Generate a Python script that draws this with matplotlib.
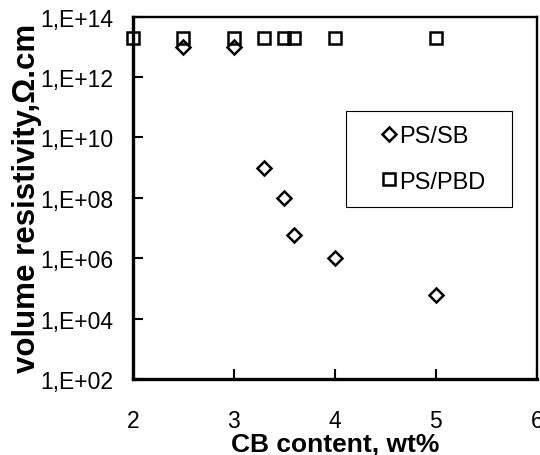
import numpy as np
import matplotlib.pyplot as plt
from matplotlib.ticker import FixedLocator, FixedFormatter

plt.rcParams['font.family'] = ['Liberation Sans', 'DejaVu Sans']

# PS/SB data
sb_x = [2.5, 3.0, 3.3, 3.5, 3.6, 4.0, 5.0]
sb_y = [1e13, 1e13, 1e9, 1e8, 6e6, 1e6, 6e4]

# PS/PBD data
pbd_x = [2.0, 2.5, 3.0, 3.3, 3.5, 3.6, 4.0, 5.0]
pbd_y = [2e13, 2e13, 2e13, 2e13, 2e13, 2e13, 2e13, 2e13]

y_ticks = [1e2, 1e4, 1e6, 1e8, 1e10, 1e12, 1e14]
y_labels = ["1,E+02", "1,E+04", "1,E+06", "1,E+08", "1,E+10", "1,E+12", "1,E+14"]
x_ticks = [2, 3, 4, 5, 6]

fig = plt.figure(figsize=(5.4, 4.56), dpi=100)
ax = fig.add_axes([0.246, 0.167, 0.748, 0.794])

ax.plot(sb_x, sb_y, linestyle='none', marker='D', markersize=7.5,
        markerfacecolor='white', markeredgecolor='black', markeredgewidth=1.8,
        label='PS/SB', clip_on=False, zorder=3)
ax.plot(pbd_x, pbd_y, linestyle='none', marker='s', markersize=9,
        markerfacecolor='none', markeredgecolor='black', markeredgewidth=1.8,
        label='PS/PBD', clip_on=False, zorder=4)

ax.set_yscale('log')
ax.set_ylim(1e2, 1e14)
ax.set_xlim(2, 6)
ax.yaxis.set_major_locator(FixedLocator(y_ticks))
ax.yaxis.set_major_formatter(FixedFormatter(y_labels))
ax.yaxis.set_minor_locator(FixedLocator([]))
ax.set_xticks(x_ticks)

ax.tick_params(axis='both', direction='in', length=7, width=1.5, labelsize=16.5)
ax.tick_params(axis='y', pad=14)
ax.tick_params(axis='x', pad=22)

for side in ['left', 'bottom']:
    ax.spines[side].set_linewidth(2.4)
for side in ['top', 'right']:
    ax.spines[side].set_linewidth(1.7)

ax.set_xlabel('CB content, wt%', fontsize=19, fontweight='bold', labelpad=0)
ax.set_ylabel('volume resistivity,\u03a9.cm', fontsize=22.5, fontweight='bold', labelpad=-1)

# legend box: fixed width, content left aligned
leg = ax.legend(loc='upper left', bbox_to_anchor=(0.527, 0.0, 0.411, 0.740),
                mode='expand', borderaxespad=0,
                fontsize=17, fancybox=False, edgecolor='black', framealpha=1,
                handlelength=2.46, handletextpad=-0.8, labelspacing=1.0,
                borderpad=0.6)
leg.get_frame().set_linewidth(0.8)

fig.savefig('out.png', dpi=100)
